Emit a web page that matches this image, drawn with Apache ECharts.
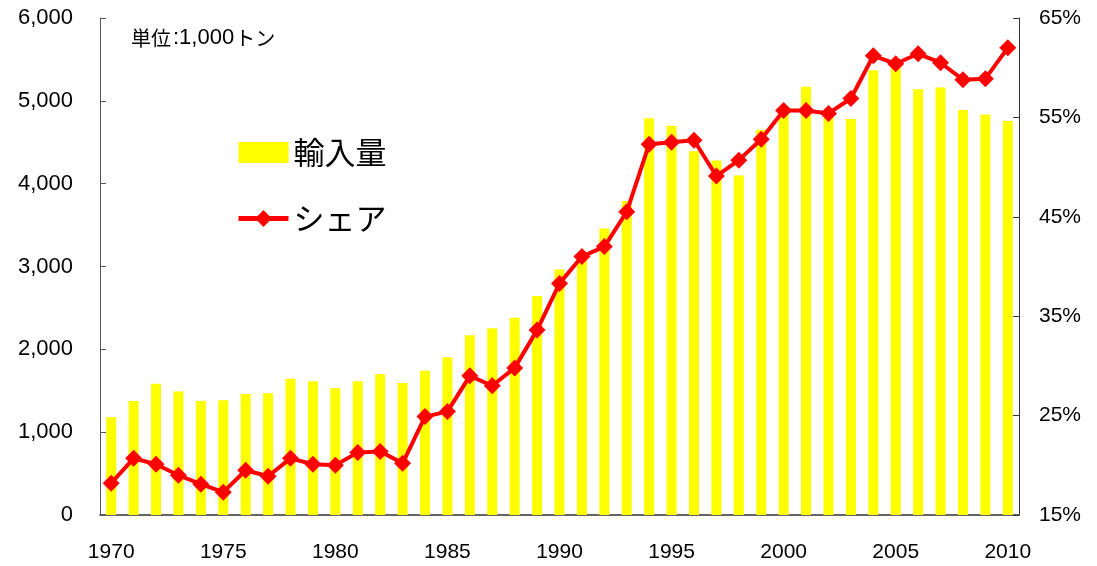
<!DOCTYPE html>
<html>
<head>
<meta charset="utf-8">
<script src="https://cdn.jsdelivr.net/npm/echarts@6/dist/echarts.min.js"></script>
<style>
    html, body {margin: 0; padding: 0; background: #fff;}
    #chart {width: 1097px; height: 566px;}
</style>
</head>
<body>
<div id="chart"></div>
<script>
    const years = [];
    for (let y = 1970; y <= 2010; y++) {
        years.push(String(y));
    }
    // 輸入量 (1,000トン)
    const imports = [1180, 1375, 1585, 1490, 1375, 1385, 1460, 1470, 1645, 1615,
        1530, 1615, 1700, 1595, 1740, 1905, 2170, 2255, 2380, 2645,
        2965, 3100, 3460, 3790, 4790, 4700, 4390, 4280, 4100, 4650,
        4900, 5170, 4830, 4780, 5370, 5450, 5140, 5160, 4890, 4835,
        4760];
    // シェア (%)
    const share = [18.2, 20.7, 20.1, 19.0, 18.1, 17.3, 19.5, 18.9, 20.7, 20.1,
        20.0, 21.3, 21.4, 20.2, 24.9, 25.4, 29.0, 28.0, 29.8, 33.6,
        38.3, 41.0, 42.0, 45.5, 52.3, 52.5, 52.7, 49.1, 50.7, 52.8,
        55.7, 55.7, 55.4, 56.9, 61.2, 60.4, 61.4, 60.5, 58.8, 58.9,
        62.0];

    const numFont = 'Liberation Sans';
    const jpFont = 'Noto Sans CJK JP';

    const chart = echarts.init(document.getElementById('chart'));
    const option = {
        animation: false,
        title: {
            // 単位の注記
            text: '{a|単位}{b|:1,000}{a|トン}',
            left: 126,
            top: 22,
            textStyle: {
                fontWeight: 'normal',
                rich: {
                    a: {fontFamily: jpFont, fontSize: 20, fontWeight: 'normal', color: '#000'},
                    b: {fontFamily: numFont, fontSize: 22, fontWeight: 'normal', color: '#000', padding: [0, 1, 0, 2]}
                }
            }
        },
        legend: {
            orient: 'vertical',
            left: 231,
            top: 132,
            itemWidth: 50,
            itemHeight: 21,
            itemGap: 35,
            textStyle: {fontFamily: jpFont, fontSize: 31, color: '#000'},
            data: [
                {name: '輸入量', icon: 'rect'},
                {name: 'シェア'}
            ],
            lineStyle: {width: 5}
        },
        grid: {left: 100, right: 78, top: 18, bottom: 51},
        xAxis: {
            type: 'category',
            data: years,
            boundaryGap: true,
            axisLine: {lineStyle: {color: '#333', width: 1.5}},
            axisTick: {inside: true, length: 6, interval: 0, lineStyle: {color: '#555'}},
            axisLabel: {
                interval: 4,
                margin: 27,
                fontFamily: numFont,
                fontSize: 21,
                color: '#000'
            }
        },
        yAxis: [
            {
                type: 'value',
                min: 0,
                max: 6000,
                interval: 1000,
                splitLine: {show: false},
                axisLine: {show: true, lineStyle: {color: '#555'}},
                axisTick: {show: true, inside: true, length: 6},
                axisLabel: {
                    margin: 27,
                    fontFamily: numFont,
                    fontSize: 22,
                    color: '#000',
                    formatter: (v) => v.toLocaleString('en-US')
                }
            },
            {
                type: 'value',
                min: 15,
                max: 65,
                interval: 10,
                splitLine: {show: false},
                axisLine: {show: true, lineStyle: {color: '#333'}},
                axisTick: {show: true, inside: true, length: 6},
                axisLabel: {
                    margin: 20,
                    fontFamily: numFont,
                    fontSize: 21,
                    color: '#000',
                    formatter: '{value}%'
                }
            }
        ],
        series: [
            {
                name: '輸入量',
                type: 'bar',
                data: imports,
                barWidth: 10,
                itemStyle: {color: '#FFFF00'}
            },
            {
                name: 'シェア',
                type: 'line',
                yAxisIndex: 1,
                data: share,
                symbol: 'diamond',
                symbolSize: 17,
                showAllSymbol: true,
                lineStyle: {color: '#FF0000', width: 4},
                itemStyle: {color: '#FF0000'}
            }
        ]
    };
    chart.setOption(option);
</script>
</body>
</html>
